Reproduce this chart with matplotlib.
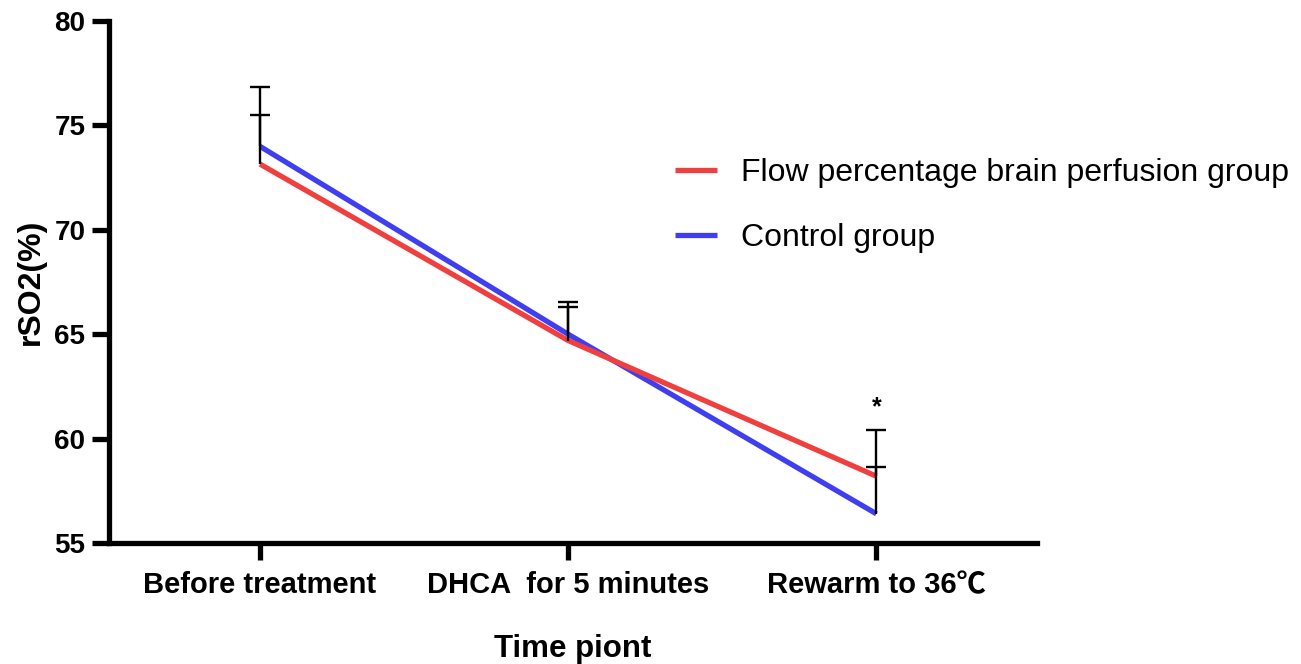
"""
rSO2 over time points, flow percentage brain perfusion vs control
"""

import matplotlib

matplotlib.use("Agg")

import matplotlib.pyplot as plt

import numpy as np

# Time points on the x axis
time_points = ["Before treatment", "DHCA  for 5 minutes", "Rewarm to 36\u2103"]

# Group means (rSO2, %)
flow_group = [73.15, 64.7, 58.2]
control_group = [74.0, 65.0, 56.4]

# Upper error (SD) for each group
flow_err = [3.7, 1.85, 2.2]
control_err = [1.5, 1.3, 2.25]

y_ticks = [55, 60, 65, 70, 75, 80]

plt.rcParams["font.family"] = ["Liberation Sans", "Noto Sans CJK SC", "DejaVu Sans"]

fig = plt.figure(figsize=(13.01, 6.64), dpi=100)
ax = fig.add_axes([0.0838, 0.1822, 0.713, 0.786])

x = np.arange(len(time_points))

red = "#F03F3F"
blue = "#3F3FF0"

ax.plot(x, flow_group, color=red, lw=3.8, label="Flow percentage brain perfusion group",
        solid_capstyle="butt", zorder=3)
ax.plot(x, control_group, color=blue, lw=3.8, label="Control group",
        solid_capstyle="butt", zorder=2)

# upward only error bars: a stem plus a cap at the top, black
for means, errs in [(flow_group, flow_err), (control_group, control_err)]:
    tops = np.array(means) + np.array(errs)
    ax.vlines(x, means, tops, color="black", lw=1.7, zorder=4)
    ax.plot(x, tops, ls="none", marker="_", ms=14, mew=1.7, color="black", zorder=4)

# significance mark
ax.text(x[2], flow_group[2] + flow_err[2] + 1.1, "*", ha="center", va="center",
        fontsize=18, fontweight="bold")

ax.set_xlim(-0.49, 2.52)
ax.set_ylim(55, 80)
ax.set_yticks(y_ticks)
ax.set_xticks(x)
ax.set_xticklabels(time_points, fontsize=21, fontweight="bold")
ax.set_yticklabels([str(t) for t in y_ticks], fontsize=20, fontweight="bold")

for side in ["top", "right"]:
    ax.spines[side].set_visible(False)
for side in ["left", "bottom"]:
    ax.spines[side].set_linewidth(3.8)

ax.tick_params(axis="both", width=3.8, length=12)
ax.tick_params(axis="x", pad=8)
ax.tick_params(axis="y", pad=5)

ax.set_xlabel("Time piont", fontsize=22.5, fontweight="bold", labelpad=25)
ax.set_ylabel("rSO2(%)", fontsize=23, fontweight="bold", labelpad=6)

fig.legend(loc="center left", bbox_to_anchor=(0.519, 0.69), frameon=False,
           fontsize=23, handlelength=1.3, handletextpad=0.75, labelspacing=1.1,
           borderpad=0, borderaxespad=0)

fig.savefig("out.png", dpi=100)
plt.close(fig)
